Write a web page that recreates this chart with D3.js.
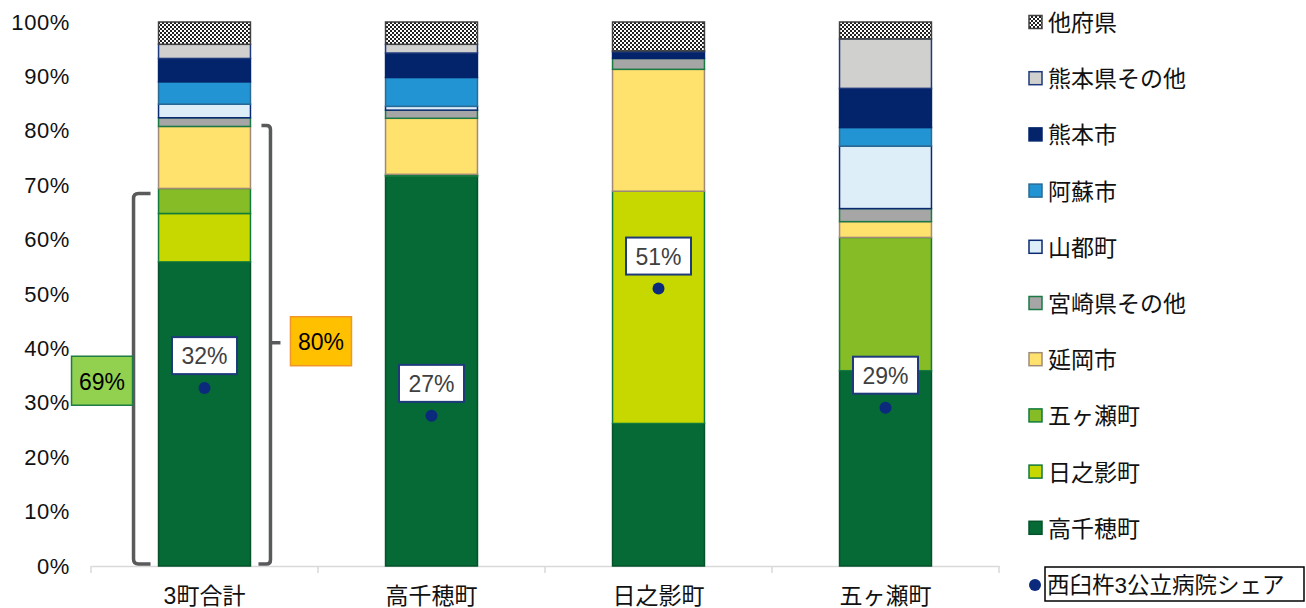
<!DOCTYPE html>
<html lang="ja">
<head>
<meta charset="UTF-8">
<title>受診先シェア</title>
<style>
  body { margin: 0; background: #fff; }
  svg text { font-family: "Liberation Sans", "Noto Sans CJK JP", sans-serif; }
</style>
</head>
<body>
<div id="viz-wrapper"></div>
<script src="https://cdn.jsdelivr.net/npm/d3@7"></script>
<script type="text/javascript">
// categories (x axis)
var categories = ["3町合計", "高千穂町", "日之影町", "五ヶ瀬町"];

// share of each destination, percent (stacked bottom -> top)
var takachiho     = [55.9, 71.6, 26.2, 35.9];
var hinokage      = [8.9, 0.2, 42.7, 0];
var gokase        = [4.6, 0.2, 0, 24.5];
var nobeoka       = [11.4, 10.3, 22.4, 2.9];
var miyazakiOther = [1.6, 1.5, 2.0, 2.4];
var yamato        = [2.5, 0.7, 0, 11.5];
var aso           = [4.1, 5.3, 0, 3.4];
var kumamotoCity  = [4.3, 4.5, 1.2, 7.2];
var kumamotoOther = [2.6, 1.6, 0.2, 9.1];
var otherPref     = [4.1, 4.1, 5.3, 3.1];

var seriesNames = ["高千穂町", "日之影町", "五ヶ瀬町", "延岡市", "宮崎県その他",
                   "山都町", "阿蘇市", "熊本市", "熊本県その他", "他府県"];

// 西臼杵3公立病院シェア (dots)
var shareValues = [32.7, 27.6, 51.0, 29.1];
var shareLabels = ["32%", "27%", "51%", "29%"];

// bracket notes on the first bar
var bracketLabels = ["69%", "80%"];

var yTicks = [0, 0.1, 0.2, 0.3, 0.4, 0.5, 0.6, 0.7, 0.8, 0.9, 1.0];

// styles per series (same order as seriesNames)
var fills   = ["#066a37", "#c7d800", "#86bc25", "#ffe16e", "#a6a6a6",
               "#ddeef9", "#2394d3", "#03246b", "#d0d0cf", "url(#checker)"];
var strokes = ["#04512a", "#117a3c", "#117a3c", "#a08a78", "#1b7a44",
               "#0b2a72", "#2a6b95", "#03246b", "#1f3a7a", "#404040"];

var width = 1306, height = 608;

var svg = d3.select("#viz-wrapper").append("svg")
  .attr("width", width).attr("height", height);

// checkerboard for 他府県
var pat = svg.append("defs").append("pattern")
  .attr("id", "checker").attr("patternUnits", "userSpaceOnUse")
  .attr("width", 4).attr("height", 4);
pat.append("rect").attr("width", 4).attr("height", 4).attr("fill", "#fff");
pat.append("rect").attr("width", 2).attr("height", 2).attr("fill", "#222");
pat.append("rect").attr("x", 2).attr("y", 2).attr("width", 2).attr("height", 2).attr("fill", "#222");

var x = d3.scaleBand().domain(categories).range([91, 999])
  .paddingInner(0.595).paddingOuter(0.2975);
var y = d3.scaleLinear().domain([0, 1]).range([566, 22]);

// build table for the stack
var seriesArrays = [takachiho, hinokage, gokase, nobeoka, miyazakiOther,
                    yamato, aso, kumamotoCity, kumamotoOther, otherPref];
var table = categories.map(function(c, i) {
  var row = { cat: c };
  seriesNames.forEach(function(s, j) { row[s] = seriesArrays[j][i] / 100; });
  return row;
});
var stacked = d3.stack().keys(seriesNames)(table);

// y axis
var yAxis = svg.append("g").attr("transform", "translate(91,0)")
  .call(d3.axisLeft(y).tickValues(yTicks).tickFormat(d3.format(".0%")).tickSize(0).tickPadding(21));
yAxis.select(".domain").remove();
yAxis.selectAll("text").attr("font-size", 22).attr("letter-spacing", 0.6).attr("fill", "#111");

// x axis
var xAxis = svg.append("g").attr("transform", "translate(0,566)")
  .call(d3.axisBottom(x).tickSize(0).tickPadding(22).tickSizeOuter(0));
xAxis.select(".domain").attr("stroke", "#d9d9d9").attr("stroke-width", 1.5);
xAxis.selectAll("text").attr("font-size", 23).attr("fill", "#111");
var bounds = categories.map(function(c) { return x(c) - x.step() * x.paddingInner() / 2; });
bounds.push(x.range()[1]);
svg.append("g").selectAll("line").data(bounds).enter().append("line")
  .attr("x1", function(d) { return d; }).attr("x2", function(d) { return d; })
  .attr("y1", 566).attr("y2", 573)
  .attr("stroke", "#d9d9d9").attr("stroke-width", 1.5);

// stacked bars
svg.append("g").selectAll("g").data(stacked).enter().append("g")
  .attr("fill", function(d, i) { return fills[i]; })
  .attr("stroke", function(d, i) { return strokes[i]; })
  .attr("stroke-width", 1.5)
  .selectAll("rect").data(function(d) { return d.filter(function(p) { return p[1] - p[0] > 0; }); })
  .enter().append("rect")
  .attr("x", function(d) { return x(d.data.cat); })
  .attr("width", x.bandwidth())
  .attr("y", function(d) { return y(d[1]); })
  .attr("height", function(d) { return y(d[0]) - y(d[1]); });

// share dots + label boxes
var share = svg.append("g").selectAll("g").data(categories).enter().append("g");
share.append("circle")
  .attr("cx", function(d) { return x(d) + x.bandwidth() / 2; })
  .attr("cy", function(d, i) { return y(shareValues[i] / 100); })
  .attr("r", 6).attr("fill", "#0b2a7c");
share.append("rect")
  .attr("x", function(d) { return x(d) + x.bandwidth() / 2 - 32.5; })
  .attr("y", function(d, i) { return y(shareValues[i] / 100) - 51; })
  .attr("width", 65).attr("height", 37)
  .attr("fill", "#fff").attr("stroke", "#1f3a7a").attr("stroke-width", 2);
share.append("text")
  .attr("x", function(d) { return x(d) + x.bandwidth() / 2; })
  .attr("y", function(d, i) { return y(shareValues[i] / 100) - 32; })
  .attr("text-anchor", "middle").attr("dominant-baseline", "central")
  .attr("font-size", 23).attr("fill", "#404040")
  .text(function(d, i) { return shareLabels[i]; });

// brackets on the first bar
var top69 = y((takachiho[0] + hinokage[0] + gokase[0]) / 100) + 5;
var top80 = y((takachiho[0] + hinokage[0] + gokase[0] + nobeoka[0]) / 100) - 1;
var bottom = y(0) - 2;
var bx0 = x(categories[0]);
var lx = bx0 - 25, rx = bx0 + x.bandwidth() + 20;

var br = svg.append("g").attr("fill", "none").attr("stroke", "#595a5c").attr("stroke-width", 3.5);
br.append("path").attr("d",
  "M" + (lx + 17) + "," + top69 + " L" + (lx + 5) + "," + top69 +
  " Q" + lx + "," + top69 + " " + lx + "," + (top69 + 5) +
  " L" + lx + "," + (bottom - 5) +
  " Q" + lx + "," + bottom + " " + (lx + 5) + "," + bottom +
  " L" + (lx + 17) + "," + bottom);
br.append("path").attr("d",
  "M" + (rx - 9) + "," + top80 + " L" + (rx - 4) + "," + top80 +
  " Q" + rx + "," + top80 + " " + rx + "," + (top80 + 4) +
  " L" + rx + "," + (bottom - 4) +
  " Q" + rx + "," + bottom + " " + (rx - 4) + "," + bottom +
  " L" + (rx - 12) + "," + bottom);
var mid80 = (top80 + bottom) / 2 - 2;
br.append("line").attr("x1", rx).attr("x2", rx + 10).attr("y1", mid80).attr("y2", mid80);

var mid69 = (top69 + bottom) / 2 + 2;
var note = svg.append("g");
note.append("rect").attr("x", lx - 62).attr("y", mid69 - 24.5).attr("width", 61).attr("height", 49)
  .attr("fill", "#92d050").attr("stroke", "#1e7b45").attr("stroke-width", 1.5);
note.append("text").attr("x", lx - 31.5).attr("y", mid69 + 1)
  .attr("text-anchor", "middle").attr("dominant-baseline", "central")
  .attr("font-size", 23).attr("fill", "#000").text(bracketLabels[0]);
note.append("rect").attr("x", rx + 20).attr("y", mid80 - 26).attr("width", 61).attr("height", 49)
  .attr("fill", "#ffc000").attr("stroke", "#f0962a").attr("stroke-width", 1.5);
note.append("text").attr("x", rx + 50.5).attr("y", mid80 - 1)
  .attr("text-anchor", "middle").attr("dominant-baseline", "central")
  .attr("font-size", 23).attr("fill", "#000").text(bracketLabels[1]);

// legend (top = 他府県)
var legendOrder = d3.range(seriesNames.length).reverse();
var lg = svg.append("g").selectAll("g").data(legendOrder).enter().append("g")
  .attr("transform", function(d, i) { return "translate(1029," + (22 + i * 56.2) + ")"; });
lg.append("rect").attr("x", 0).attr("y", -6.5).attr("width", 13).attr("height", 13)
  .attr("fill", function(d) { return fills[d]; })
  .attr("stroke", function(d) { return strokes[d]; }).attr("stroke-width", 1.5);
lg.append("text").attr("x", 19).attr("y", 1).attr("dominant-baseline", "central")
  .attr("font-size", 23).attr("fill", "#111")
  .text(function(d) { return seriesNames[d]; });

var shareLeg = svg.append("g").attr("transform", "translate(1029," + (22 + 10 * 56.2) + ")");
shareLeg.append("circle").attr("cx", 6).attr("cy", 1).attr("r", 6).attr("fill", "#0b2a7c");
shareLeg.append("rect").attr("x", 16).attr("y", -17).attr("width", 259).attr("height", 34)
  .attr("fill", "#fff").attr("stroke", "#000").attr("stroke-width", 1.5);
shareLeg.append("text").attr("x", 18).attr("y", 1).attr("dominant-baseline", "central")
  .attr("font-size", 22.5).attr("fill", "#111").text("西臼杵3公立病院シェア");
</script>
</body>
</html>
